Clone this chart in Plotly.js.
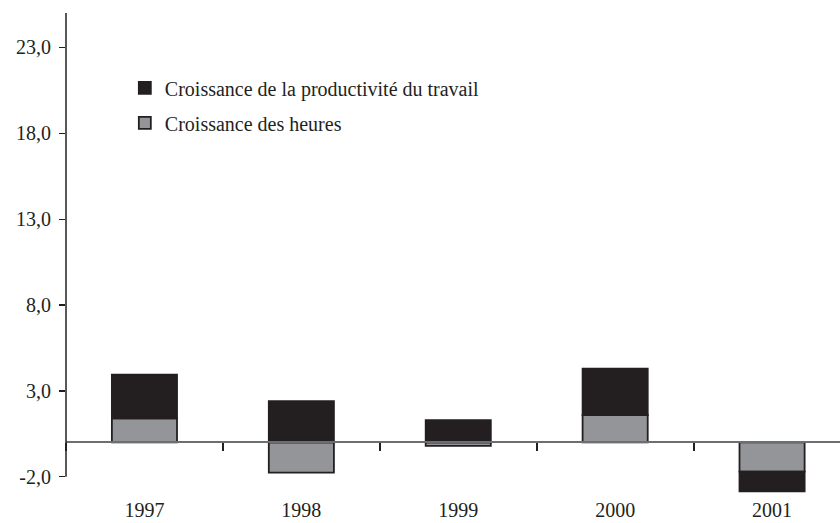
<!DOCTYPE html>
<html>
<head>
<meta charset="utf-8">
<script src="https://cdn.plot.ly/plotly-3.0.1.min.js"></script>
<style>html,body{margin:0;padding:0;background:#fff;overflow:hidden}</style>
</head>
<body>
<div id="chart" style="width:840px;height:523px"></div>
<script>
var years = ['1997', '1998', '1999', '2000', '2001'];
var hoursGrowth = [1.4, -1.75, -0.2, 1.6, -1.7];
var productivityGrowth = [2.55, 2.4, 1.3, 2.7, -1.15];
var yTicks = [-2, 3, 8, 13, 18, 23];
var yTickText = ['-2,0', '3,0', '8,0', '13,0', '18,0', '23,0'];
var seriesNames = ['Croissance de la productivité du travail', 'Croissance des heures'];

var dark = '#231f20';
var grey = '#939598';
var font = 'Liberation Serif, Times New Roman, serif';

var traces = [
  {
    type: 'bar', name: seriesNames[1], x: years, y: hoursGrowth,
    marker: {color: grey, line: {color: dark, width: 1.8}},
    legendgroup: 'h', legendrank: 2, hoverinfo: 'x+y'
  },
  {
    type: 'bar', name: seriesNames[0], x: years, y: productivityGrowth,
    marker: {color: dark, line: {color: dark, width: 1.8}},
    legendgroup: 'p', legendrank: 1, hoverinfo: 'x+y'
  },
  {
    type: 'scatter', mode: 'none', x: years, y: years.map(function(){return 0;}),
    xaxis: 'x2', showlegend: false, hoverinfo: 'skip'
  }
];

var layout = {
  width: 840, height: 523,
  margin: {l: 66, r: 0, t: 13, b: 29},
  paper_bgcolor: '#fff', plot_bgcolor: '#fff',
  barmode: 'relative', bargap: 0.585,
  font: {family: font, size: 20, color: dark},
  showlegend: true,
  legend: {
    x: 0.076, y: 0.885, xanchor: 'left', yanchor: 'top',
    traceorder: 'grouped', tracegroupgap: 6,
    font: {family: font, size: 20, color: dark},
    bgcolor: 'rgba(0,0,0,0)'
  },
  xaxis: {
    type: 'category', range: [-0.5, 4.433],
    showline: false, showgrid: false, zeroline: false, ticks: '',
    tickfont: {family: font, size: 20, color: dark},
    ticklabelstandoff: 2, fixedrange: true
  },
  xaxis2: {
    type: 'category', overlaying: 'x', anchor: 'free', position: 3/28,
    range: [-0.5, 4.433], side: 'bottom',
    showline: true, linecolor: '#6d6e71', linewidth: 2,
    ticks: 'outside', tickson: 'boundaries', ticklen: 8, tickwidth: 2, tickcolor: dark,
    showticklabels: false, showgrid: false, zeroline: false, fixedrange: true
  },
  yaxis: {
    range: [-3, 25], tickvals: yTicks, ticktext: yTickText,
    showline: false, showgrid: false, zeroline: false,
    ticks: 'outside', ticklen: 6, tickwidth: 1.2, tickcolor: dark,
    tickfont: {family: font, size: 20, color: dark},
    ticklabelstandoff: 4, fixedrange: true
  },
  shapes: [
    {type: 'line', xref: 'paper', yref: 'y', x0: 0, x1: 0, y0: -2, y1: 25,
     line: {color: dark, width: 1.5}}
  ]
};

Plotly.newPlot('chart', traces, layout, {displayModeBar: false, staticPlot: true});
</script>
</body>
</html>
